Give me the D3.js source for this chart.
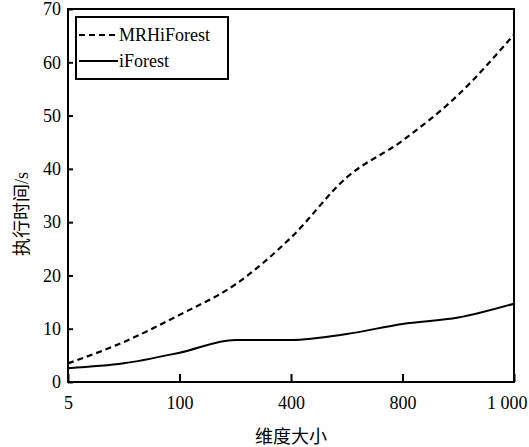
<!DOCTYPE html>
<html>
<head>
<meta charset="utf-8">
<script src="https://cdn.jsdelivr.net/npm/d3@7"></script>
<style>
  body { margin: 0; background: #fff; }
  text { font-family: "Liberation Serif", "Noto Sans CJK SC", serif; fill: #000; }
</style>
</head>
<body>
<div id="chart"></div>
<script>
// dimension steps (9 points), only some are labelled on the axis
const steps = [0, 1, 2, 3, 4, 5, 6, 7, 8];
const xTickIdx = [0, 2, 4, 6, 8];
const xTickLabels = ["5", "100", "400", "800", "1 000"];
const yTicks = [0, 10, 20, 30, 40, 50, 60, 70];

const mrhiTimes = [3.5, 7.5, 12.6, 18.3, 27.1, 38.4, 45.3, 53.9, 65.2];
const iforestTimes = [2.6, 3.5, 5.5, 7.9, 7.9, 9.0, 10.9, 12.1, 14.7];

const seriesNames = ["MRHiForest", "iForest"];

const makePlot = () => {
  const size = { width: 529, height: 447 };
  const margin = { top: 9, right: 15, bottom: 65, left: 68 };
  const w = size.width - margin.left - margin.right;
  const h = size.height - margin.top - margin.bottom;

  const svg = d3.select("#chart").append("svg")
    .attr("width", size.width)
    .attr("height", size.height);

  const g = svg.append("g").attr("transform", `translate(${margin.left},${margin.top})`);

  const x = d3.scalePoint().domain(steps).range([0, w]);
  const y = d3.scaleLinear().domain([0, 70]).range([h, 0]);

  // x axis, ticks pointing inward
  const xAxis = d3.axisBottom(x)
    .tickValues(xTickIdx)
    .tickFormat((d, i) => xTickLabels[i])
    .tickSizeInner(-8)
    .tickSizeOuter(0)
    .tickPadding(14);
  const gx = g.append("g").attr("transform", `translate(0,${h})`).call(xAxis);
  gx.select(".domain").remove();
  gx.selectAll("line").attr("stroke", "#000").attr("stroke-width", 2);
  gx.selectAll("text").style("font-size", "18px");
  // last label sits flush with the right side like the original
  gx.selectAll("text").filter((d, i) => i === xTickIdx.length - 1)
    .attr("text-anchor", "end")
    .attr("x", 13);

  const yAxis = d3.axisLeft(y)
    .tickValues(yTicks)
    .tickSizeInner(-5)
    .tickSizeOuter(0)
    .tickPadding(7);
  const gy = g.append("g").call(yAxis);
  gy.select(".domain").remove();
  gy.selectAll("line").attr("stroke", "#000").attr("stroke-width", 2);
  gy.selectAll("text").style("font-size", "18px");

  // frame
  g.append("rect")
    .attr("width", w).attr("height", h)
    .attr("fill", "none").attr("stroke", "#000").attr("stroke-width", 2);

  const line = d3.line()
    .x((d, i) => x(steps[i]))
    .y((d) => y(d))
    .curve(d3.curveMonotoneX);

  g.append("path")
    .datum(mrhiTimes)
    .attr("d", line)
    .attr("fill", "none")
    .attr("stroke", "#000")
    .attr("stroke-width", 2.2)
    .attr("stroke-dasharray", "6,4");

  g.append("path")
    .datum(iforestTimes)
    .attr("d", line)
    .attr("fill", "none")
    .attr("stroke", "#000")
    .attr("stroke-width", 2);

  // legend
  const legend = g.append("g").attr("transform", "translate(8,8)");
  legend.append("rect")
    .attr("width", 152).attr("height", 62)
    .attr("fill", "#fff").attr("stroke", "#000").attr("stroke-width", 2);
  seriesNames.forEach((name, i) => {
    const ly = 18 + i * 26;
    legend.append("line")
      .attr("x1", 3).attr("x2", 42)
      .attr("y1", ly).attr("y2", ly)
      .attr("stroke", "#000").attr("stroke-width", 2)
      .attr("stroke-dasharray", i === 0 ? "6,4" : null);
    legend.append("text")
      .attr("x", 43).attr("y", ly)
      .attr("dy", "0.35em")
      .style("font-size", "18px")
      .text(name);
  });

  // axis titles
  svg.append("text")
    .attr("x", margin.left + w / 2)
    .attr("y", 443)
    .attr("text-anchor", "middle")
    .style("font-size", "18px")
    .text("维度大小");

  svg.append("text")
    .attr("transform", "translate(28,214) rotate(-90)")
    .attr("text-anchor", "middle")
    .style("font-size", "18px")
    .text("执行时间/s");
};

makePlot();
</script>
</body>
</html>
